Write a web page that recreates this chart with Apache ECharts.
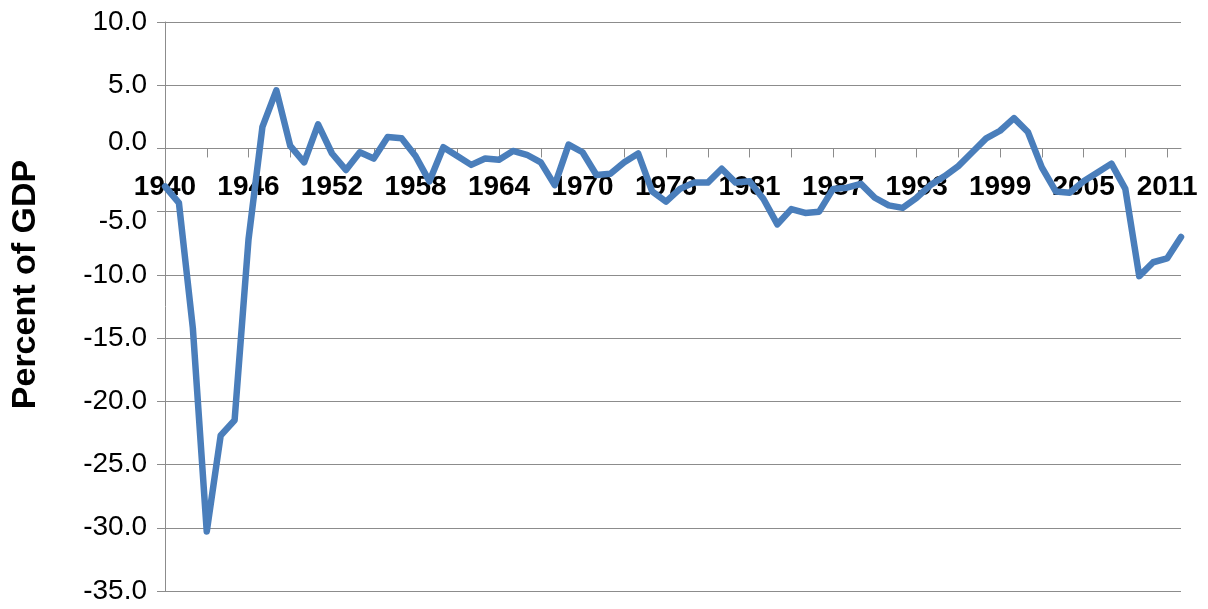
<!DOCTYPE html>
<html>
<head>
<meta charset="utf-8">
<script src="https://cdn.jsdelivr.net/npm/echarts@6/dist/echarts.min.js"></script>
<style>
html,body{margin:0;padding:0;background:#fff;}
#chart{width:1208px;height:609px;}
</style>
</head>
<body>
<div id="chart"></div>
<script>
// Fiscal years (TQ = transition quarter 1976)
const years = ['1940','1941','1942','1943','1944','1945','1946','1947','1948','1949',
  '1950','1951','1952','1953','1954','1955','1956','1957','1958','1959',
  '1960','1961','1962','1963','1964','1965','1966','1967','1968','1969',
  '1970','1971','1972','1973','1974','1975','1976','TQ','1977','1978','1979',
  '1980','1981','1982','1983','1984','1985','1986','1987','1988','1989',
  '1990','1991','1992','1993','1994','1995','1996','1997','1998','1999',
  '2000','2001','2002','2003','2004','2005','2006','2007','2008','2009',
  '2010','2011','2012'];
// Surplus (+) / deficit (-) as percent of GDP
const surplusPct = [-3.0,-4.3,-14.2,-30.3,-22.7,-21.5,-7.2,1.7,4.6,0.2,
  -1.1,1.9,-0.4,-1.7,-0.3,-0.8,0.9,0.8,-0.6,-2.6,
  0.1,-0.6,-1.3,-0.8,-0.9,-0.2,-0.5,-1.1,-2.9,0.3,
  -0.3,-2.1,-2.0,-1.1,-0.4,-3.4,-4.2,-3.2,-2.7,-2.7,-1.6,
  -2.7,-2.6,-4.0,-6.0,-4.8,-5.1,-5.0,-3.2,-3.1,-2.8,
  -3.9,-4.5,-4.7,-3.9,-2.9,-2.2,-1.4,-0.3,0.8,1.4,
  2.4,1.3,-1.5,-3.4,-3.5,-2.6,-1.9,-1.2,-3.2,-10.1,
  -9.0,-8.7,-7.0];
const yTitle = 'Percent of GDP';
const yMin = -35, yMax = 10;

const gridTop = 22, gridBottom = 18, chartH = 609;
const plotH = chartH - gridTop - gridBottom;
// move the category axis up to the value-axis zero line
const zeroOffset = -plotH * (0 - yMin) / (yMax - yMin);

const chart = echarts.init(document.getElementById('chart'));
const gray = '#8c8c8c';
const font = 'Liberation Sans, Arial, sans-serif';
chart.setOption({
  animation: false,
  backgroundColor: '#ffffff',
  grid: {left: 165, right: 27, top: gridTop, bottom: gridBottom, containLabel: false, outerBoundsMode: 'none'},
  xAxis: {
    type: 'category',
    data: years,
    boundaryGap: false,
    position: 'bottom',
    offset: zeroOffset,
    axisLine: {show: true, onZero: false, lineStyle: {color: gray, width: 1}},
    axisTick: {show: true, interval: 2, length: 9, lineStyle: {color: gray}},
    axisLabel: {
      show: true, interval: 5, margin: 25, color: '#000', fontSize: 28, fontWeight: 'bold',
      fontFamily: font, hideOverlap: false
    },
    splitLine: {show: false}
  },
  yAxis: {
    type: 'value',
    min: yMin, max: yMax, interval: 5,
    name: yTitle,
    nameLocation: 'middle',
    nameGap: 122,
    nameTextStyle: {fontSize: 34, fontWeight: 'bold', color: '#000',
      fontFamily: font, padding: [0, 0, 0, 44]},
    axisLine: {show: true, onZero: false, lineStyle: {color: gray, width: 1}},
    axisTick: {show: true, length: 8, lineStyle: {color: gray}},
    axisLabel: {
      margin: 18, color: '#000', fontSize: 28,
      fontFamily: font,
      formatter: function (v) {
        if (v === -5) return '{dn|' + v.toFixed(1) + '}';
        if (v === 0) return '{up|' + v.toFixed(1) + '}';
        return v.toFixed(1);
      },
      rich: {
        dn: {fontSize: 28, color: '#000', padding: [20, 0, 0, 0], fontFamily: font},
        up: {fontSize: 28, color: '#000', padding: [0, 0, 12, 0], fontFamily: font}
      }
    },
    splitLine: {show: true, lineStyle: {color: gray, width: 1}}
  },
  series: [{
    type: 'line',
    data: surplusPct,
    showSymbol: false,
    symbol: 'none',
    z: 5,
    lineStyle: {color: '#4a7ebb', width: 6.5, join: 'round', cap: 'round'},
    itemStyle: {color: '#4a7ebb'}
  }]
});
</script>
</body>
</html>
